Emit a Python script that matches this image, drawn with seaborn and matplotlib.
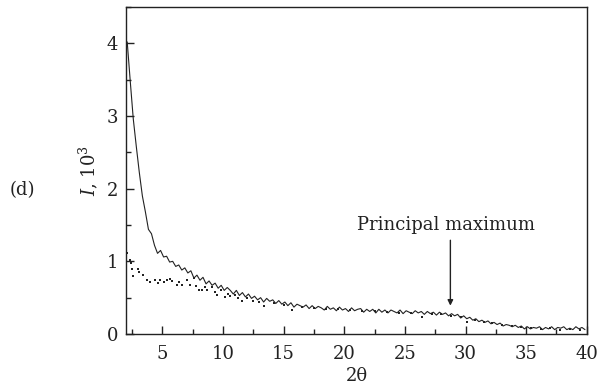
import numpy as np
import pandas as pd
import matplotlib
matplotlib.use("Agg")
import matplotlib.pyplot as plt
import seaborn as sns
from matplotlib.ticker import MultipleLocator

# solid curve, sampled every 0.25 deg from 2.1
two_theta = np.arange(2.1, 40.0, 0.25)
intensity = [
    4.02, 3.48, 2.96, 2.58, 2.22, 1.90, 1.68, 1.44, 1.38, 1.22,
    1.11, 1.15, 1.06, 1.07, 0.99, 1.00, 0.93, 0.95, 0.88, 0.91,
    0.84, 0.87, 0.77, 0.81, 0.74, 0.78, 0.69, 0.73, 0.67, 0.70,
    0.63, 0.67, 0.60, 0.64, 0.60, 0.55, 0.60, 0.53, 0.57, 0.51,
    0.55, 0.49, 0.52, 0.47, 0.50, 0.44, 0.49, 0.45, 0.47, 0.42,
    0.46, 0.41, 0.44, 0.39, 0.43, 0.37, 0.41, 0.39, 0.37, 0.40,
    0.35, 0.39, 0.35, 0.38, 0.36, 0.33, 0.38, 0.34, 0.36, 0.32,
    0.37, 0.33, 0.35, 0.31, 0.36, 0.32, 0.34, 0.35, 0.30, 0.34,
    0.31, 0.34, 0.29, 0.34, 0.30, 0.33, 0.29, 0.33, 0.31, 0.29,
    0.33, 0.28, 0.32, 0.30, 0.28, 0.32, 0.29, 0.31, 0.27, 0.31,
    0.28, 0.30, 0.26, 0.30, 0.27, 0.29, 0.25, 0.28, 0.25, 0.27,
    0.22, 0.25, 0.21, 0.23, 0.19, 0.21, 0.17, 0.19, 0.16, 0.18,
    0.14, 0.16, 0.13, 0.15, 0.11, 0.13, 0.12, 0.10, 0.12, 0.09,
    0.11, 0.07, 0.10, 0.07, 0.09, 0.08, 0.10, 0.06, 0.09, 0.07,
    0.10, 0.06, 0.09, 0.08, 0.10, 0.06, 0.08, 0.06, 0.10, 0.07,
    0.09, 0.06,
]

# dotted series
dot_theta = [
    2.1, 2.3, 2.45, 2.5, 2.55, 2.95, 3.1, 3.4, 3.7, 4.0,
    4.4, 4.6, 4.8, 5.1, 5.4, 5.6, 5.8, 6.2, 6.4, 6.6,
    7.0, 7.3, 7.6, 7.8, 8.0, 8.3, 8.5, 8.7, 9.1, 9.3,
    9.5, 9.8, 10.2, 10.4, 10.6, 11.0, 11.2, 11.6, 12.0, 12.5,
    13.0, 13.4, 14.2, 15.0, 15.7, 16.5, 17.5, 18.5, 19.5, 20.5,
    21.5, 22.5, 23.5, 24.5, 25.5, 26.4, 27.2, 28.0, 28.8, 29.6,
    30.1, 30.8, 31.5, 32.2, 33.0, 33.8, 34.6, 35.4, 36.2, 37.0,
    37.8, 38.6, 39.4,
]
dot_intensity = [
    1.12, 1.02, 0.98, 0.90, 0.80, 0.90, 0.86, 0.81, 0.74, 0.72,
    0.75, 0.70, 0.74, 0.72, 0.74, 0.76, 0.73, 0.68, 0.71, 0.68,
    0.74, 0.68, 0.77, 0.66, 0.61, 0.60, 0.64, 0.61, 0.64, 0.58,
    0.54, 0.60, 0.51, 0.55, 0.52, 0.53, 0.50, 0.45, 0.49, 0.46,
    0.44, 0.38, 0.43, 0.40, 0.33, 0.37, 0.36, 0.34, 0.34, 0.33,
    0.32, 0.31, 0.30, 0.29, 0.29, 0.24, 0.28, 0.27, 0.25, 0.23,
    0.17, 0.19, 0.17, 0.15, 0.13, 0.11, 0.09, 0.08, 0.07, 0.08,
    0.06, 0.07, 0.06,
]

solid = pd.DataFrame({"2theta": two_theta, "I": intensity})
dots = pd.DataFrame({"2theta": dot_theta, "I": dot_intensity})

sns.set_style("ticks")
plt.rcParams["font.family"] = ["DejaVu Serif"]
plt.rcParams["mathtext.fontset"] = "dejavuserif"

fig = plt.figure(figsize=(6, 3.9), dpi=100)
ax = fig.add_axes([0.21, 0.1436, 0.768, 0.8384])

ink = "#222222"
fs = 13
sns.lineplot(data=solid, x="2theta", y="I", ax=ax, color=ink, linewidth=0.8)
sns.scatterplot(data=dots, x="2theta", y="I", ax=ax, color=ink, marker="s",
                s=2.5, linewidth=0)

ax.set_xlim(2, 40)
ax.set_ylim(0, 4.5)
ax.xaxis.set_major_locator(MultipleLocator(5))
ax.xaxis.set_minor_locator(MultipleLocator(2.5))
ax.yaxis.set_major_locator(MultipleLocator(1))
ax.yaxis.set_minor_locator(MultipleLocator(0.5))
ax.tick_params(which="both", direction="in", top=False, right=False,
               colors=ink, labelsize=fs, width=1)
ax.tick_params(which="major", length=6)
ax.tick_params(which="minor", length=3.5)
ax.tick_params(axis="x", which="major", pad=8)
ax.tick_params(axis="y", which="major", pad=5.5)
for sp in ax.spines.values():
    sp.set_visible(True)
    sp.set_color(ink)
    sp.set_linewidth(1)

ax.set_xlabel("2θ", fontsize=fs, color=ink, labelpad=3)
ax.set_ylabel(r"$I$, 10$^3$", fontsize=fs, color=ink, labelpad=5)
fig.text(0.037, 0.513, "(d)", fontsize=fs, color=ink, ha="center", va="center")

ax.text(28.4, 1.43, "Principal maximum", ha="center", va="baseline",
        fontsize=fs, color=ink)
ax.annotate("", xy=(28.75, 0.39), xytext=(28.75, 1.29),
            arrowprops=dict(arrowstyle="-|>", color=ink, lw=1,
                            mutation_scale=8, shrinkA=0, shrinkB=0))

fig.savefig("out.png", dpi=100)
